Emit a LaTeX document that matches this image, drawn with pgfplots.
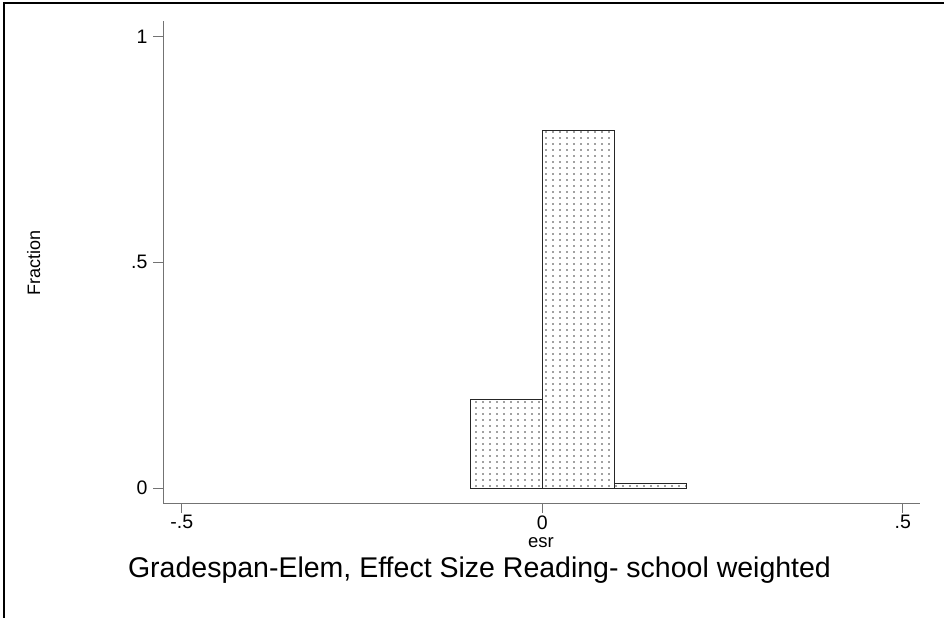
\documentclass[border=0pt]{standalone}
\usepackage{fontspec}
\setmainfont{Liberation Sans}
\usepackage{pgfplots}
\pgfplotsset{compat=1.18}
\usetikzlibrary{patterns}
\pgfdeclarepatternformonly{mydots}{\pgfpoint{-1.5bp}{-1.5bp}}{\pgfpoint{1.5bp}{1.5bp}}{\pgfpoint{7bp}{6bp}}{\pgfpathcircle{\pgfpointorigin}{0.85bp}\pgfusepath{fill}}
\begin{document}
\begin{tikzpicture}[x=1bp,y=1bp]
\useasboundingbox (0,0) rectangle (944,618);
\draw[line width=2.5bp] (4,0) -- (4,615) -- (944,615);
\begin{axis}[
  at={(163bp,115bp)}, anchor=south west,
  scale only axis, width=757bp, height=482bp,
  xmin=-0.526, xmax=0.524, ymin=-0.0333, ymax=1.035,
  axis lines=left,
  axis line style={-, draw=black!55, line width=0.8bp},
  tick style={draw=black!55, line width=0.8bp},
  tick align=outside, major tick length=10bp,
  xtick={-0.5,0,0.5}, xticklabels={-.5,0,.5},
  ytick={0,0.5,1}, yticklabels={0,.5,1},
  tick label style={font=\fontsize{19.5bp}{23bp}\selectfont},
  xticklabel style={yshift=1bp},
  yticklabel style={xshift=-2bp},
  clip=false,
]
\addplot[ybar interval, draw=black!85, line width=0.9bp, pattern=mydots, pattern color=black!75]
  coordinates {(-0.1,0.197) (0,0.792) (0.1,0.0095) (0.2,0.0095)};
\end{axis}
\node[anchor=base, font=\fontsize{18.5bp}{22bp}\selectfont, inner sep=0] at (541,70) {esr};
\node[anchor=base, rotate=90, font=\fontsize{18bp}{22bp}\selectfont, inner sep=0] at (40,355) {Fraction};
\node[anchor=base, font=\fontsize{28.5bp}{33bp}\selectfont, inner sep=0] at (479.5,40) {Gradespan-Elem, Effect Size Reading- school weighted};
\end{tikzpicture}
\end{document}
